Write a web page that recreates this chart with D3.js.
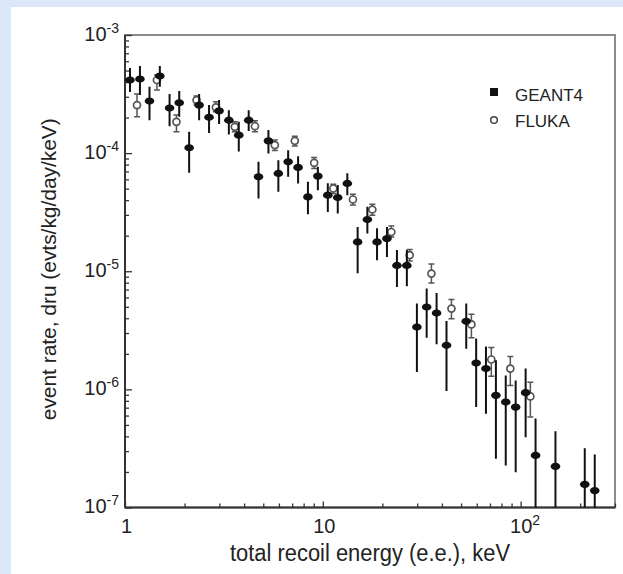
<!DOCTYPE html>
<html>
<head>
<meta charset="utf-8">
<script src="https://cdn.jsdelivr.net/npm/d3@7"></script>
<style>
body { margin: 0; background: #dce8fa; }
svg { display: block; }
text { font-family: "Liberation Sans", Arial, sans-serif; fill: #222; }
</style>
</head>
<body>
<div id="chart"></div>
<script>
// GEANT4 (filled markers, error bars without caps)
const geantE = [1.06, 1.19, 1.33, 1.50, 1.68, 1.88, 2.11, 2.37, 2.66, 2.99, 3.35, 3.76, 4.22, 4.73, 5.31,
    5.96, 6.68, 7.50, 8.41, 9.44, 10.6, 11.9, 13.3, 15.0, 16.8, 18.8, 21.1, 23.7, 26.6, 29.9, 33.5, 37.6,
    42.2, 53.1, 59.6, 66.8, 75.0, 84.1, 94.4, 106, 119, 150, 211, 237];
const geantRate = [4.16e-4, 4.24e-4, 2.76e-4, 4.49e-4, 2.41e-4, 2.67e-4, 1.11e-4, 2.55e-4, 2.01e-4, 2.28e-4,
    1.90e-4, 1.42e-4, 1.90e-4, 6.30e-5, 1.27e-4, 6.73e-5, 8.44e-5, 7.57e-5, 4.26e-5, 6.39e-5, 4.41e-5,
    4.21e-5, 5.54e-5, 1.77e-5, 2.74e-5, 1.77e-5, 1.89e-5, 1.12e-5, 1.12e-5, 3.37e-6, 4.98e-6, 4.43e-6,
    2.36e-6, 3.77e-6, 1.67e-6, 1.50e-6, 8.90e-7, 7.81e-7, 7.08e-7, 9.38e-7, 2.76e-7, 2.23e-7, 1.57e-7, 1.39e-7];
const geantLow = [3.29e-4, 3.10e-4, 1.90e-4, 3.65e-4, 1.69e-4, 2.03e-4, 6.81e-5, 1.90e-4, 1.48e-4, 1.76e-4,
    1.44e-4, 1.03e-4, 1.54e-4, 4.13e-5, 9.94e-5, 4.70e-5, 6.30e-5, 5.54e-5, 3.04e-5, 4.86e-5, 3.18e-5,
    3.08e-5, 4.41e-5, 9.62e-6, 2.09e-5, 1.24e-5, 1.32e-5, 7.36e-6, 7.46e-6, 1.40e-6, 2.74e-6, 2.41e-6,
    9.67e-7, 2.21e-6, 7.08e-7, 6.23e-7, 2.59e-7, 2.27e-7, 1.99e-7, 3.94e-7, 1e-8, 1e-8, 1e-8, 1e-8];
const geantHigh = [5.25e-4, 5.46e-4, 3.65e-4, 5.46e-4, 3.16e-4, 3.35e-4, 1.52e-4, 3.16e-4, 2.55e-4, 2.81e-4,
    2.31e-4, 1.84e-4, 2.31e-4, 8.44e-5, 1.57e-4, 8.72e-5, 1.06e-4, 9.43e-5, 5.71e-5, 7.65e-5, 5.57e-5,
    5.36e-5, 6.77e-5, 2.37e-5, 3.51e-5, 2.31e-5, 2.37e-5, 1.51e-5, 1.51e-5, 5.33e-6, 7.14e-6, 6.55e-6,
    3.79e-6, 5.33e-6, 2.69e-6, 2.31e-6, 1.76e-6, 1.31e-6, 1.19e-6, 1.50e-6, 5.68e-7, 4.43e-7, 3.18e-7, 2.81e-7];

// FLUKA (open circles, capped error bars)
const flukaE = [1.15, 1.45, 1.82, 2.30, 2.88, 3.59, 4.54, 5.72, 7.22, 9.04, 11.3, 14.2, 17.8, 22.2, 27.5,
    35.4, 44.7, 56.4, 71.1, 88.7, 112];
const flukaRate = [2.55e-4, 4.16e-4, 1.84e-4, 2.81e-4, 2.44e-4, 1.67e-4, 1.69e-4, 1.17e-4, 1.27e-4, 8.28e-5,
    5.02e-5, 4.05e-5, 3.33e-5, 2.15e-5, 1.37e-5, 9.56e-6, 4.83e-6, 3.55e-6, 1.79e-6, 1.50e-6, 8.72e-7];
const flukaLow = [2.03e-4, 3.42e-4, 1.52e-4, 2.55e-4, 2.24e-4, 1.52e-4, 1.52e-4, 1.05e-4, 1.15e-4, 7.42e-5,
    4.56e-5, 3.63e-5, 2.98e-5, 1.95e-5, 1.22e-5, 7.96e-6, 3.97e-6, 2.74e-6, 1.29e-6, 1.08e-6, 5.83e-7];
const flukaHigh = [3.16e-4, 4.58e-4, 2.10e-4, 3.04e-4, 2.72e-4, 1.84e-4, 1.88e-4, 1.29e-4, 1.39e-4, 9.20e-5,
    5.46e-5, 4.49e-5, 3.70e-5, 2.41e-5, 1.53e-5, 1.15e-5, 5.76e-6, 4.32e-6, 2.26e-6, 1.90e-6, 1.15e-6];

// tick labels: [base, exponent]
const xMajor = [1, 10, 100];
const xTickLabels = [["1", ""], ["10", ""], ["10", "2"]];
const yMajor = [1e-7, 1e-6, 1e-5, 1e-4, 1e-3];
const yTickLabels = [["10", "-7"], ["10", "-6"], ["10", "-5"], ["10", "-4"], ["10", "-3"]];

const W = 623, H = 574;
const margin = { top: 35, right: 8, bottom: 66.5, left: 125 };
const width = W - margin.left - margin.right;
const height = H - margin.top - margin.bottom;

const svg = d3.select("#chart")
    .append("svg")
    .attr("width", W)
    .attr("height", H);
svg.append("rect")
    .attr("x", 11).attr("y", 7)
    .attr("width", W - 11).attr("height", H - 7)
    .attr("fill", "#fff");

const g = svg.append("g")
    .attr("transform", `translate(${margin.left},${margin.top})`);

const x = d3.scaleLog().domain([1, 300]).range([0, width]);
const y = d3.scaleLog().domain([1e-7, 1e-3]).range([height, 0]);

// frame
g.append("rect")
    .attr("width", width).attr("height", height)
    .attr("fill", "none")
    .attr("stroke", "#8c8c8c")
    .attr("stroke-width", 2);

const xMinor = x.ticks().filter(v => !xMajor.includes(v));
const yMinor = y.ticks().filter(v => !yMajor.some(m => Math.abs(m - v) / m < 1e-6));

function axisStyle(sel) {
    sel.select(".domain").remove();
    sel.selectAll("line").attr("stroke", "#333").attr("stroke-width", 1.3);
}

g.append("g")
    .attr("transform", `translate(0,${height})`)
    .call(d3.axisBottom(x).tickValues(xMinor).tickSize(-4).tickFormat(""))
    .call(axisStyle);
const xAx = g.append("g")
    .attr("transform", `translate(0,${height})`)
    .call(d3.axisBottom(x).tickValues(xMajor).tickSize(-6).tickFormat(""))
    .call(axisStyle);
g.append("g")
    .call(d3.axisLeft(y).tickValues(yMinor).tickSize(-4).tickFormat(""))
    .call(axisStyle);
const yAx = g.append("g")
    .call(d3.axisLeft(y).tickValues(yMajor).tickSize(-7).tickFormat(""))
    .call(axisStyle);

// left and bottom axis lines
g.append("line").attr("x1", 0).attr("x2", 0).attr("y1", 0).attr("y2", height)
    .attr("stroke", "#333").attr("stroke-width", 2);
g.append("line").attr("x1", 0).attr("x2", width).attr("y1", height).attr("y2", height)
    .attr("stroke", "#333").attr("stroke-width", 2);

function powLabel(sel, lab) {
    sel.append("tspan").text(lab[0]);
    if (lab[1]) sel.append("tspan").attr("dy", -8).attr("font-size", 14).text(lab[1]);
}

xAx.selectAll(".tick").each(function (d, i) {
    const t = d3.select(this).append("text")
        .attr("y", 25.5)
        .attr("font-size", 20)
        .attr("text-anchor", "middle")
        .attr("dx", xTickLabels[i][1] ? 4 : 1)
        .attr("fill", "#222");
    powLabel(t, xTickLabels[i]);
});
yAx.selectAll(".tick").each(function (d, i) {
    const t = d3.select(this).append("text")
        .attr("x", -6)
        .attr("y", 5)
        .attr("font-size", 20)
        .attr("text-anchor", "end")
        .attr("fill", "#222");
    powLabel(t, yTickLabels[i]);
});

// axis titles
svg.append("text")
    .attr("x", margin.left + width / 2)
    .attr("y", 561)
    .attr("text-anchor", "middle")
    .attr("font-size", 23)
    .attr("textLength", 280)
    .attr("lengthAdjust", "spacingAndGlyphs")
    .text("total recoil energy (e.e.), keV");
svg.append("text")
    .attr("transform", `translate(56,${margin.top + height / 2 - 2}) rotate(-90)`)
    .attr("text-anchor", "middle")
    .attr("font-size", 20)
    .attr("textLength", 302)
    .attr("lengthAdjust", "spacingAndGlyphs")
    .text("event rate, dru (evts/kg/day/keV)");

// data
g.append("clipPath").attr("id", "clip")
    .append("rect").attr("width", width).attr("height", height);
const plot = g.append("g").attr("clip-path", "url(#clip)");

const fluka = flukaE.map((e, i) => ({ e, v: flukaRate[i], lo: flukaLow[i], hi: flukaHigh[i] }));
const geant = geantE.map((e, i) => ({ e, v: geantRate[i], lo: geantLow[i], hi: geantHigh[i] }));

const fg = plot.append("g").attr("stroke", "#555").attr("stroke-width", 1.5);
fg.selectAll(".fbar").data(fluka).enter().append("line")
    .attr("x1", d => x(d.e)).attr("x2", d => x(d.e))
    .attr("y1", d => y(d.hi)).attr("y2", d => y(d.lo));
fg.selectAll(".fcapHi").data(fluka).enter().append("line")
    .attr("x1", d => x(d.e) - 3).attr("x2", d => x(d.e) + 3)
    .attr("y1", d => y(d.hi)).attr("y2", d => y(d.hi));
fg.selectAll(".fcapLo").data(fluka).enter().append("line")
    .attr("x1", d => x(d.e) - 3).attr("x2", d => x(d.e) + 3)
    .attr("y1", d => y(d.lo)).attr("y2", d => y(d.lo));
fg.selectAll("circle").data(fluka).enter().append("circle")
    .attr("cx", d => x(d.e)).attr("cy", d => y(d.v))
    .attr("r", 3.5)
    .attr("fill", "#fff")
    .attr("stroke-width", 1.7);

const gg = plot.append("g");
gg.selectAll("line").data(geant).enter().append("line")
    .attr("x1", d => x(d.e)).attr("x2", d => x(d.e))
    .attr("y1", d => y(d.hi)).attr("y2", d => y(d.lo))
    .attr("stroke", "#111").attr("stroke-width", 2);
gg.selectAll("ellipse").data(geant).enter().append("ellipse")
    .attr("cx", d => x(d.e)).attr("cy", d => y(d.v))
    .attr("rx", 4.8).attr("ry", 3.6)
    .attr("fill", "#111");

// legend
const leg = svg.append("g");
leg.append("rect").attr("x", 490).attr("y", 88).attr("width", 8).attr("height", 8).attr("fill", "#111");
leg.append("text").attr("x", 515).attr("y", 101).attr("font-size", 17).text("GEANT4");
leg.append("circle").attr("cx", 494).attr("cy", 120).attr("r", 3.3)
    .attr("fill", "#fff").attr("stroke", "#444").attr("stroke-width", 1.5);
leg.append("text").attr("x", 515).attr("y", 127).attr("font-size", 17).text("FLUKA");
</script>
</body>
</html>
